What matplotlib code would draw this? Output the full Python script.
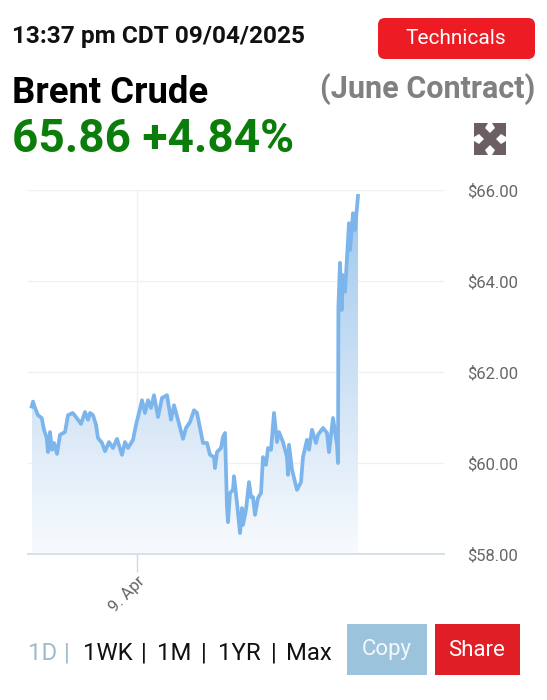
import numpy as np
import matplotlib
matplotlib.use("Agg")
import matplotlib.pyplot as plt
from matplotlib.colors import LinearSegmentedColormap
from matplotlib.patches import FancyBboxPatch, Rectangle, Polygon

plt.rcParams["font.family"] = ["Roboto", "DejaVu Sans"]

# position along the time axis (chart pixels) and price
times = [31.7, 33, 35, 38, 41.7, 44, 46.7, 48, 50, 52, 54, 57, 60, 65, 68, 72.7, 76.7, 81, 85, 88,
         90, 93, 96, 98, 102, 105, 109, 113, 117, 122, 125, 128, 133, 136, 139, 142, 145, 148, 151, 154,
         158, 162, 167, 171, 174, 178, 183, 186, 190, 194, 197, 203, 207, 210, 214, 215, 217, 221, 223, 225,
         227, 228, 230, 233, 234, 237, 240, 242, 243, 246, 249, 251, 253, 255, 258, 261, 263, 266, 268, 271,
         274, 277, 279, 283, 287, 288, 289, 292, 297, 301, 303, 307, 309, 312, 316, 318, 323, 327, 329, 333,
         337, 338, 338.4, 340, 341.7, 342.7, 345, 349, 350, 353, 355, 358]
prices = [61.24, 61.35, 61.21, 61.05, 60.99, 60.73, 60.55, 60.24, 60.68, 60.29, 60.44, 60.20, 60.62, 60.68, 61.05, 61.10, 60.99, 60.86, 61.12, 60.95,
          61.10, 61.05, 60.84, 60.55, 60.44, 60.26, 60.46, 60.33, 60.53, 60.18, 60.46, 60.33, 60.51, 60.84, 61.10, 61.38, 61.10, 61.38, 61.21, 61.49,
          61.01, 61.43, 61.49, 60.95, 61.27, 60.95, 60.53, 60.77, 60.90, 61.16, 61.10, 60.44, 60.44, 60.18, 60.13, 59.89, 60.24, 60.33, 60.57, 60.66,
          59.03, 58.70, 59.34, 59.41, 59.71, 59.12, 58.46, 59.01, 58.64, 58.97, 59.58, 59.25, 59.25, 58.86, 59.23, 59.34, 60.13, 59.96, 60.33, 60.29,
          61.10, 60.46, 60.68, 60.46, 60.13, 59.74, 60.40, 59.85, 59.41, 59.58, 60.13, 60.51, 60.29, 60.73, 60.44, 60.62, 60.77, 60.66, 60.24, 60.99,
          60.40, 60.00, 63.43, 64.40, 63.36, 64.13, 63.76, 65.27, 64.68, 65.49, 65.12, 65.87]
y_ticks = [58, 60, 62, 64, 66]
y_labels = ["$58.00", "$60.00", "$62.00", "$64.00", "$66.00"]
x_tick = 137
x_tick_label = "9. Apr"
range_labels = ["1D", "|", "1WK", "|", "1M", "|", "1YR", "|", "Max"]

W, H = 547, 700
fig = plt.figure(figsize=(W / 100, H / 100), dpi=100, facecolor="white")

# main chart
ax = fig.add_axes([28 / W, 1 - 554 / H, (444 - 28) / W, (554 - 190) / H])
ax.set_xlim(28, 444)
ax.set_ylim(58, 66)
for s in ["top", "left", "right"]:
    ax.spines[s].set_visible(False)
ax.spines["bottom"].set_color("#d3dee6")
ax.spines["bottom"].set_linewidth(1.3)
ax.yaxis.tick_right()
ax.set_yticks(y_ticks)
ax.set_yticklabels(y_labels, color="#666666", fontsize=12, va="center_baseline")
ax.tick_params(axis="y", length=0, pad=17)
ax.set_xticks([x_tick])
ax.set_xticklabels([x_tick_label], rotation=45, ha="right", rotation_mode="anchor",
                   color="#666666", fontsize=12)
ax.tick_params(axis="x", length=13, width=1, color="#cfd8df", pad=1)
for lab in ax.get_xticklabels():
    lab.set_x(x_tick)
ax.grid(True, color="#f0f0f0", linewidth=1)
ax.set_axisbelow(True)

# area fill with vertical gradient
cmap = LinearSegmentedColormap.from_list("area", ["#f8fbfe", "#dbe9f7", "#bcd8f2", "#9cc6ee"])
grad = np.linspace(0, 1, 256).reshape(-1, 1)
img = ax.imshow(grad, extent=[times[0], times[-1], 58, 66], origin="lower", aspect="auto",
                cmap=cmap, zorder=1.5)
poly = ax.fill_between(times, prices, 58, color="none")
img.set_clip_path(poly.get_paths()[0], transform=ax.transData)
ax.set_xlim(28, 444)
ax.set_ylim(58, 66)
ax.plot(times, prices, color="#7cb5ec", linewidth=2.7, solid_joinstyle="round", zorder=3, clip_on=False)

# header, buttons and range selector, in picture pixels
ui = fig.add_axes([0, 0, 1, 1], facecolor="none")
ui.set_xlim(0, W)
ui.set_ylim(H, 0)
ui.axis("off")

ui.text(12, 36, "13:37 pm CDT 09/04/2025", fontsize=17.6, fontweight="bold", color="#111111", va="center")
ui.add_patch(FancyBboxPatch((378, 18), 157, 41, boxstyle="round,pad=0,rounding_size=7",
                            linewidth=0, facecolor="#ed1c24"))
ui.text(456, 38, "Technicals", fontsize=15, color="white", ha="center", va="center")
ui.text(12, 93, "Brent Crude", fontsize=26.3, fontweight="bold", color="black", va="center")
ui.text(535, 89, "(June Contract)", fontsize=22, fontweight="bold", color="#808080", ha="right", va="center")
ui.text(12, 139, "65.86 +4.84%", fontsize=33.1, fontweight="bold", color="#0a7d0a", va="center")

# expand icon
icon = "#6b5f63"
cx, cy = 490, 139
arrow = [(0, 0), (14, 0), (11, 5), (16, 10), (16, 16), (10, 16), (5, 11), (0, 14)]
for sx, sy in [(-1, -1), (1, -1), (-1, 1), (1, 1)]:
    pts = [(cx + sx * (16 - p[0]), cy + sy * (16 - p[1])) for p in arrow]
    ui.add_patch(Polygon(pts, closed=True, facecolor=icon, edgecolor="none"))

# range selector
range_x = [28, 64, 83, 141, 157, 201, 218, 271, 286]
range_colors = ["#9fbccb", "#9fbccb"] + ["#111111"] * 7
for label, x, c in zip(range_labels, range_x, range_colors):
    ui.text(x, 653, label, fontsize=17.2, color=c, va="center")

ui.add_patch(Rectangle((347, 624), 80, 51, facecolor="#9cc3dc", edgecolor="none"))
ui.text(387, 650, "Copy", fontsize=16, color="#f3f8fb", ha="center", va="center")
ui.add_patch(Rectangle((435, 624), 85, 51, facecolor="#e01e26", edgecolor="none"))
ui.text(477, 650, "Share", fontsize=16, color="white", ha="center", va="center")

fig.savefig("out.png", dpi=100)
